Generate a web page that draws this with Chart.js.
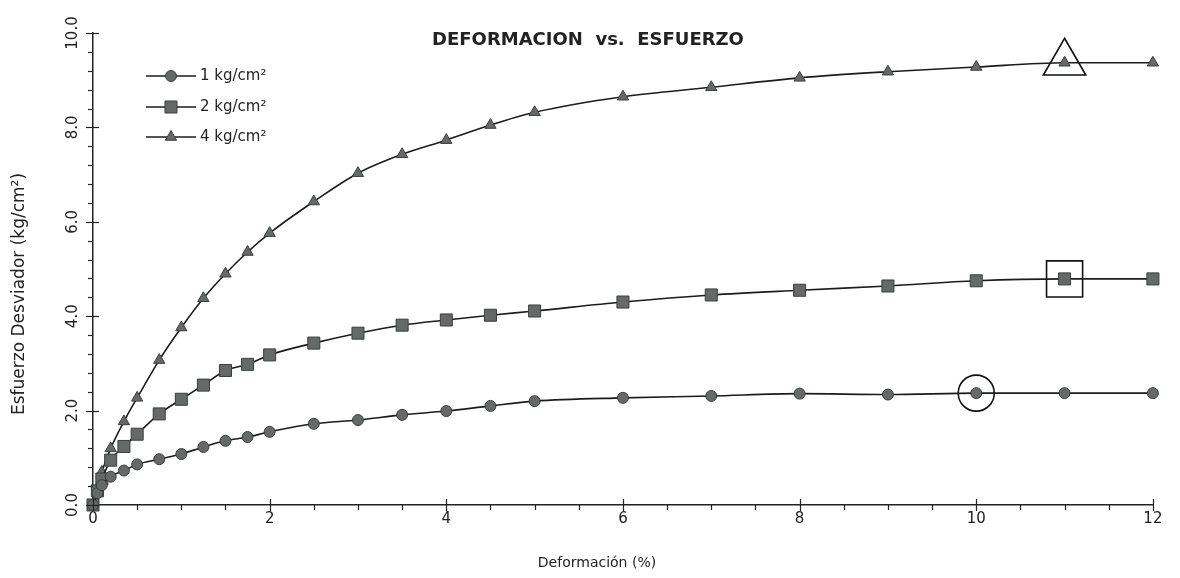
<!DOCTYPE html>
<html><head><meta charset="utf-8">
<script src="https://cdn.jsdelivr.net/npm/chart.js@4.4.1/dist/chart.umd.min.js"></script>
<style>html,body{margin:0;padding:0;background:#fff;} #wrap{width:1180px;height:578px;position:relative;}</style>
</head><body><div id="wrap"><canvas id="c" width="1180" height="578"></canvas></div>
<script>
// ---- data ----
const deformacion = [0, 0.05, 0.1, 0.2, 0.35, 0.5, 0.75, 1, 1.25, 1.5, 1.75, 2, 2.5, 3, 3.5, 4, 4.5, 5, 6, 7, 8, 9, 10, 11, 12];
const esfuerzo1 = [0, 0.25, 0.42, 0.6, 0.73, 0.86, 0.97, 1.08, 1.23, 1.36, 1.44, 1.55, 1.72, 1.8, 1.91, 1.99, 2.1, 2.2, 2.27, 2.31, 2.36, 2.34, 2.37, 2.37, 2.37];
const esfuerzo2 = [0, 0.3, 0.55, 0.95, 1.24, 1.5, 1.93, 2.24, 2.54, 2.85, 2.98, 3.18, 3.43, 3.64, 3.81, 3.92, 4.02, 4.11, 4.3, 4.45, 4.55, 4.64, 4.75, 4.79, 4.79];
const esfuerzo4 = [0, 0.35, 0.7, 1.2, 1.77, 2.27, 3.07, 3.76, 4.38, 4.9, 5.36, 5.76, 6.43, 7.03, 7.43, 7.73, 8.05, 8.32, 8.65, 8.85, 9.05, 9.18, 9.28, 9.37, 9.37];
const seriesLabels = ['1 kg/cm²', '2 kg/cm²', '4 kg/cm²'];
const seriesStyles = ['circle', 'rect', 'triangle'];
const fallaIndex = [22, 23, 23]; // highlighted (failure) point of each series
const xTicks = [0, 2, 4, 6, 8, 10, 12];
const yTicks = [0, 2, 4, 6, 8, 10];
const chartTitle = 'DEFORMACION  vs.  ESFUERZO';
const xTitle = 'Deformación (%)';
const yTitle = 'Esfuerzo Desviador (kg/cm²)';

const allSeries = [esfuerzo1, esfuerzo2, esfuerzo4];
const pointRadius = [5.5, 8.5, 6.5];
const hiRadius = [18, 25.5, 24.5];
const FONT = "'DejaVu Sans', Verdana, sans-serif";
const markerFill = '#656a69', markerBorder = '#3a3e3d', lineColor = '#1c1c1c';

const datasets = allSeries.map((s, i) => ({
  label: seriesLabels[i],
  data: deformacion.map((x, j) => ({x, y: s[j]})),
  showLine: true,
  borderColor: lineColor, borderWidth: 1.6,
  backgroundColor: markerFill,
  pointBackgroundColor: markerFill, pointBorderColor: markerBorder, pointBorderWidth: 1,
  pointStyle: seriesStyles[i], pointRadius: pointRadius[i], pointHoverRadius: pointRadius[i],
  tension: 0.35, cubicInterpolationMode: 'monotone', clip: false, fill: false
}));
allSeries.forEach((s, i) => {
  datasets.push({
    label: 'falla ' + seriesLabels[i],
    data: [{x: deformacion[fallaIndex[i]], y: s[fallaIndex[i]]}],
    showLine: false, pointStyle: seriesStyles[i], pointRadius: hiRadius[i], pointHoverRadius: hiRadius[i],
    pointBackgroundColor: 'rgba(0,0,0,0)', pointBorderColor: '#111', pointBorderWidth: 1.6, clip: false
  });
});

const decor = {
  id: 'decor',
  afterDraw(chart) {
    const ctx = chart.ctx, xs = chart.scales.x, ys = chart.scales.y, a = chart.chartArea;
    ctx.save();
    ctx.strokeStyle = '#222'; ctx.lineWidth = 1.2;
    for (let v = 0; v <= 12.0001; v += 0.5) {
      const px = Math.round(xs.getPixelForValue(v)) + 0.5;
      const major = Math.abs(v / 2 - Math.round(v / 2)) < 1e-6;
      ctx.beginPath();
      ctx.moveTo(px, major ? a.bottom - 6 : a.bottom);
      ctx.lineTo(px, a.bottom + (major ? 6 : 5));
      ctx.stroke();
    }
    for (let k = 0; k <= 25; k++) {
      const v = k * 0.4;
      const py = Math.round(ys.getPixelForValue(v)) + 0.5;
      const major = k % 5 === 0;
      ctx.beginPath();
      ctx.moveTo(a.left - (major ? 7 : 5), py);
      ctx.lineTo(major ? a.left + 6 : a.left, py);
      ctx.stroke();
    }
    ctx.fillStyle = '#222';
    ctx.font = "bold 18px " + FONT;
    ctx.textAlign = 'center'; ctx.textBaseline = 'middle';
    ctx.fillText(chartTitle, 588, 40);
    ctx.font = "14px " + FONT;
    ctx.fillText(xTitle, 597, 563);
    ctx.save();
    ctx.translate(20, 294); ctx.rotate(-Math.PI / 2);
    ctx.font = "17px " + FONT;
    ctx.fillText(yTitle, 0, 0);
    ctx.restore();
    const rows = [76, 107, 137];
    ctx.textAlign = 'left';
    ctx.font = "15px " + FONT;
    rows.forEach((ry, i) => {
      ctx.strokeStyle = lineColor; ctx.lineWidth = 1.6;
      ctx.beginPath(); ctx.moveTo(146, ry); ctx.lineTo(196, ry); ctx.stroke();
      ctx.fillStyle = markerFill; ctx.strokeStyle = markerBorder; ctx.lineWidth = 1;
      Chart.helpers.drawPoint(ctx, {pointStyle: seriesStyles[i], radius: pointRadius[i], rotation: 0, borderWidth: 1}, 171, ry);
      ctx.fillStyle = '#222';
      ctx.fillText(seriesLabels[i], 200, ry);
    });
    ctx.restore();
  }
};

new Chart(document.getElementById('c'), {
  type: 'scatter',
  data: {datasets},
  options: {
    responsive: false, animation: false, devicePixelRatio: 1,
    layout: {padding: {top: 33, right: 12, left: 0, bottom: 0}},
    plugins: {legend: {display: false}, tooltip: {enabled: false}, title: {display: false}},
    scales: {
      x: {
        type: 'linear', min: 0, max: 12,
        afterBuildTicks: s => { s.ticks = xTicks.map(v => ({value: v})); },
        afterFit: s => { s.height = 73; },
        grid: {display: false, drawTicks: false},
        border: {display: true, color: '#222', width: 1.5},
        ticks: {font: {family: FONT, size: 15}, color: '#222', padding: 5, maxRotation: 0, callback: v => String(v)}
      },
      y: {
        type: 'linear', min: 0, max: 10,
        afterBuildTicks: s => { s.ticks = yTicks.map(v => ({value: v})); },
        afterFit: s => { s.width = 93; },
        grid: {display: false, drawTicks: false},
        border: {display: true, color: '#222', width: 1.5},
        ticks: {font: {family: FONT, size: 15}, color: '#222', padding: 3, minRotation: 90, maxRotation: 90, crossAlign: 'center', callback: v => Number(v).toFixed(1)}
      }
    }
  },
  plugins: [decor]
});
</script>
</body></html>
